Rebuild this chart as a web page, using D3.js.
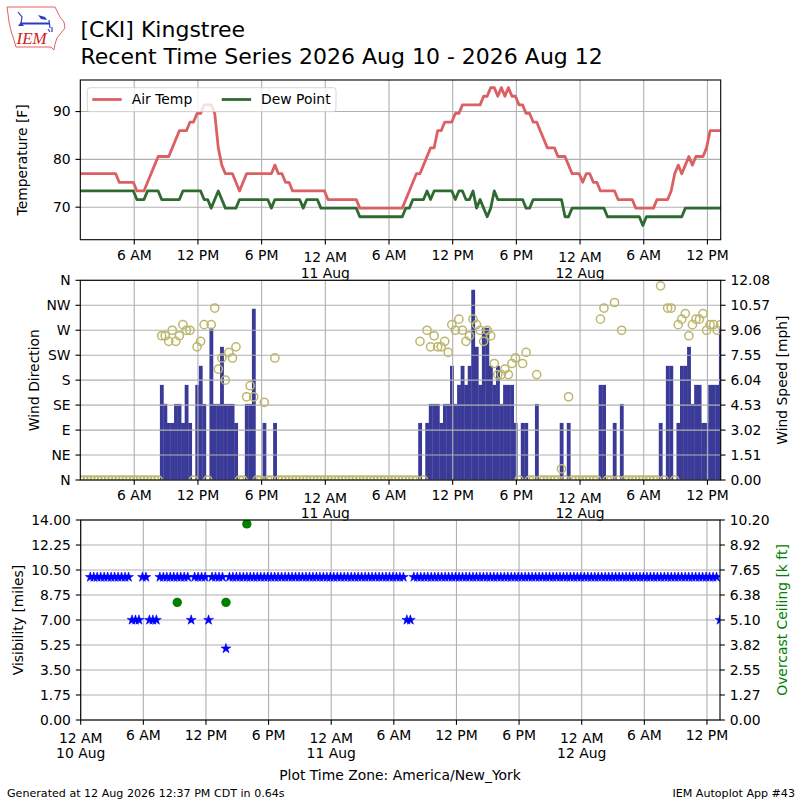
<!DOCTYPE html>
<html>
<head>
<meta charset="utf-8">
<script src="https://cdn.jsdelivr.net/npm/d3@7"></script>
<style>
  html, body { margin: 0; padding: 0; background: #fff; }
  svg text { font-family: "DejaVu Sans", sans-serif; fill: #000; }
</style>
</head>
<body>
<svg id="chart" width="800" height="800"></svg>
<script>
// ── Observations: every 20 minutes from 00:55 10 Aug (plot time zone) ──
const obsStart   = '2026-08-10T00:55:00Z';
const obsStepMin = 20;

const tempF = [
  /*  0 */ 77,77,77,77,77,77,77,77,77,77,
  /* 10 */ 77,75.2,75.2,75.2,75.2,75.2,73.4,73.4,73.4,75.2,
  /* 20 */ 77,78.8,80.6,80.6,80.6,80.6,82.4,84.2,86,86,
  /* 30 */ 86,87.8,87.8,89.6,89.6,91.4,91.4,91.4,89.6,82.4,
  /* 40 */ 78.8,77,77,77,75.2,73.4,75.2,77,77,77,
  /* 50 */ 77,77,77,77,77,78.8,77,77,75.2,75.2,
  /* 60 */ 73.4,73.4,73.4,73.4,73.4,73.4,73.4,73.4,73.4,73.4,
  /* 70 */ 71.6,71.6,71.6,71.6,71.6,71.6,71.6,71.6,71.6,69.8,
  /* 80 */ 69.8,69.8,69.8,69.8,69.8,69.8,69.8,69.8,69.8,69.8,
  /* 90 */ 69.8,69.8,71.6,73.4,75.2,77,77,78.8,80.6,82.4,
  /*100 */ 82.4,86,86,87.8,87.8,87.8,89.6,89.6,91.4,91.4,
  /*110 */ 91.4,91.4,91.4,91.4,93.2,93.2,95,95,93.2,95,
  /*120 */ 93.2,95,93.2,93.2,91.4,91.4,89.6,89.6,87.8,87.8,
  /*130 */ 86,84.2,82.4,82.4,82.4,80.6,80.6,80.6,78.8,77,
  /*140 */ 77,77,75.2,77,77,75.2,75.2,73.4,73.4,73.4,
  /*150 */ 73.4,73.4,71.6,71.6,71.6,71.6,71.6,69.8,69.8,69.8,
  /*160 */ 69.8,69.8,69.8,71.6,71.6,71.6,71.6,73.4,77,78.8,
  /*170 */ 77,78.8,80.6,78.8,80.6,80.6,80.6,82.4,86,86,
  /*180 */ 86,86
];

const dewF = [
  /*  0 */ 73.4,73.4,73.4,73.4,73.4,73.4,73.4,73.4,73.4,73.4,
  /* 10 */ 73.4,73.4,73.4,73.4,73.4,73.4,71.6,71.6,71.6,73.4,
  /* 20 */ 73.4,73.4,73.4,71.6,71.6,71.6,71.6,71.6,71.6,73.4,
  /* 30 */ 73.4,73.4,73.4,73.4,73.4,71.6,71.6,69.8,71.6,73.4,
  /* 40 */ 71.6,69.8,69.8,69.8,69.8,71.6,71.6,71.6,71.6,71.6,
  /* 50 */ 71.6,71.6,71.6,71.6,69.8,71.6,71.6,71.6,71.6,71.6,
  /* 60 */ 71.6,71.6,71.6,69.8,71.6,71.6,71.6,71.6,69.8,69.8,
  /* 70 */ 69.8,69.8,69.8,69.8,69.8,69.8,69.8,69.8,69.8,68,
  /* 80 */ 68,68,68,68,68,68,68,68,68,68,
  /* 90 */ 68,68,69.8,69.8,71.6,71.6,71.6,71.6,73.4,71.6,
  /*100 */ 73.4,73.4,73.4,73.4,73.4,73.4,71.6,73.4,73.4,71.6,
  /*110 */ 71.6,73.4,69.8,71.6,69.8,68,69.8,73.4,71.6,71.6,
  /*120 */ 71.6,71.6,71.6,71.6,71.6,71.6,69.8,69.8,71.6,71.6,
  /*130 */ 71.6,71.6,71.6,71.6,71.6,71.6,71.6,68,68,69.8,
  /*140 */ 69.8,69.8,69.8,69.8,69.8,69.8,69.8,69.8,69.8,68,
  /*150 */ 68,68,68,68,68,68,68,68,68,66.2,
  /*160 */ 68,68,68,68,68,68,68,68,68,68,
  /*170 */ 68,69.8,69.8,69.8,69.8,69.8,69.8,69.8,69.8,69.8,
  /*180 */ 69.8,69.8
];

// wind speed in knots (plotted in mph)
const windKt = [
  /*  0 */ 0,0,0,0,0,0,0,0,0,0,
  /* 10 */ 0,0,0,0,0,0,0,0,0,0,
  /* 20 */ 0,0,0,5,4,3,3,4,4,3,
  /* 30 */ 5,3,0,5,6,4,0,8,4,4,
  /* 40 */ 7,4,4,4,3,0,0,4,4,9,
  /* 50 */ 0,0,3,0,0,3,0,0,0,0,
  /* 60 */ 0,0,0,0,0,0,0,0,0,0,
  /* 70 */ 0,0,0,0,0,0,0,0,0,0,
  /* 80 */ 0,0,0,0,0,0,0,0,0,0,
  /* 90 */ 0,0,0,0,0,0,3,0,3,4,
  /*100 */ 4,4,3,4,4,6,4,5,6,5,
  /*110 */ 6,10,7,5,8,8,6,5,6,4,
  /*120 */ 5,5,5,3,0,3,3,0,0,4,
  /*130 */ 0,0,0,0,0,0,3,0,3,0,
  /*140 */ 0,0,0,0,0,0,0,5,5,0,
  /*150 */ 0,3,0,4,0,0,0,0,0,0,
  /*160 */ 0,0,0,0,3,0,6,6,0,3,
  /*170 */ 6,6,7,4,5,5,3,3,5,5,
  /*180 */ 5,8
];

// wind direction in degrees (0 when calm)
const windDir = [
  /*  0 */ 0,0,0,0,0,0,0,0,0,0,
  /* 10 */ 0,0,0,0,0,0,0,0,0,0,
  /* 20 */ 0,0,0,260,260,250,270,250,260,280,
  /* 30 */ 270,270,0,240,250,280,0,280,310,200,
  /* 40 */ 220,180,230,220,240,0,0,150,170,150,
  /* 50 */ 0,0,140,0,0,220,0,0,0,0,
  /* 60 */ 0,0,0,0,0,0,0,0,0,0,
  /* 70 */ 0,0,0,0,0,0,0,0,0,0,
  /* 80 */ 0,0,0,0,0,0,0,0,0,0,
  /* 90 */ 0,0,0,0,0,0,250,0,270,240,
  /*100 */ 260,240,240,250,230,280,270,290,270,250,
  /*110 */ 260,290,280,270,250,270,260,210,190,190,
  /*120 */ 200,190,210,220,0,210,230,0,0,190,
  /*130 */ 0,0,0,0,0,0,20,0,150,0,
  /*140 */ 0,0,0,0,0,0,0,290,310,0,
  /*150 */ 0,320,0,270,0,0,0,0,0,0,
  /*160 */ 0,0,0,0,350,0,310,310,0,280,
  /*170 */ 290,300,260,280,290,290,300,270,280,280,
  /*180 */ 270,280
];

const visMiles = [
  /*  0 */ 10,10,10,10,10,10,10,10,10,10,
  /* 10 */ 10,10,7,7,7,10,10,7,7,7,
  /* 20 */ 10,10,10,10,10,10,10,10,10,7,
  /* 30 */ 10,10,10,10,7,10,10,10,10,5,
  /* 40 */ 10,10,10,10,10,10,10,10,10,10,
  /* 50 */ 10,10,10,10,10,10,10,10,10,10,
  /* 60 */ 10,10,10,10,10,10,10,10,10,10,
  /* 70 */ 10,10,10,10,10,10,10,10,10,10,
  /* 80 */ 10,10,10,10,10,10,10,10,10,10,
  /* 90 */ 10,7,7,10,10,10,10,10,10,10,
  /*100 */ 10,10,10,10,10,10,10,10,10,10,
  /*110 */ 10,10,10,10,10,10,10,10,10,10,
  /*120 */ 10,10,10,10,10,10,10,10,10,10,
  /*130 */ 10,10,10,10,10,10,10,10,10,10,
  /*140 */ 10,10,10,10,10,10,10,10,10,10,
  /*150 */ 10,10,10,10,10,10,10,10,10,10,
  /*160 */ 10,10,10,10,10,10,10,10,10,10,
  /*170 */ 10,10,10,10,10,10,10,10,10,10,
  /*180 */ 10,7
];

// overcast ceiling reports [k ft]
const ceilingTimes = ['2026-08-10T09:15:00Z', '2026-08-10T13:55:00Z', '2026-08-10T15:55:00Z'];
const ceilingKft   = [6.0, 6.0, 10.0];

// ── Axis ticks ───────────────────────────────────────────────
const tempTicks        = [70, 80, 90];
const dirTicks         = [0, 45, 90, 135, 180, 225, 270, 315, 360];
const dirTickLabels    = ['N', 'NE', 'E', 'SE', 'S', 'SW', 'W', 'NW', 'N'];
const speedTickLabels  = ['0.00', '1.51', '3.02', '4.53', '6.04', '7.55', '9.06', '10.57', '12.08'];
const visTickLabels    = ['0.00', '1.75', '3.50', '5.25', '7.00', '8.75', '10.50', '12.25', '14.00'];
const ceilTickLabels   = ['0.00', '1.27', '2.55', '3.82', '5.10', '6.38', '7.65', '8.92', '10.20'];

// ── Layout ───────────────────────────────────────────────────
const TICK = 4.86, PAD = 4.86, FS = 13.9;
const GRID = '#b0b0b0';
const pTop = { x0: 80.3, x1: 720.7, y0: 80,    y1: 239.7 };
const pMid = { x0: 80.3, x1: 720.7, y0: 280.3, y1: 480 };
const pBot = { x0: 80.7, x1: 720,   y0: 520,   y1: 720 };

const MIN = 60000;
const times = tempF.map((_, i) => new Date(Date.parse(obsStart) + i * obsStepMin * MIN));
const first = times[0], last = times[times.length - 1];

const svg = d3.select('#chart');
const defs = svg.append('defs');

function clipFor(id, p) {
  defs.append('clipPath').attr('id', id)
    .append('rect').attr('x', p.x0).attr('y', p.y0)
    .attr('width', p.x1 - p.x0).attr('height', p.y1 - p.y0);
  return `url(#${id})`;
}

function hourLabel(d) {
  const h = d.getUTCHours();
  return (h % 12 === 0 ? 12 : h % 12) + (h < 12 ? ' AM' : ' PM');
}
const dayLabel = d3.utcFormat('%-d %b');

function gridX(g, x, p, ticks) {
  g.append('g').selectAll('line').data(ticks).join('line')
    .attr('x1', d => x(d)).attr('x2', d => x(d))
    .attr('y1', p.y0).attr('y2', p.y1)
    .attr('stroke', GRID).attr('stroke-width', 1.1);
}
function gridY(g, y, p, ticks) {
  g.append('g').selectAll('line').data(ticks).join('line')
    .attr('y1', d => y(d)).attr('y2', d => y(d))
    .attr('x1', p.x0).attr('x2', p.x1)
    .attr('stroke', GRID).attr('stroke-width', 1.1);
}

function xAxis(g, x, p, ticks) {
  const a = g.append('g');
  a.selectAll('line').data(ticks).join('line')
    .attr('x1', d => x(d)).attr('x2', d => x(d))
    .attr('y1', p.y1).attr('y2', p.y1 + TICK)
    .attr('stroke', '#000').attr('stroke-width', 1.1);
  ticks.forEach(d => {
    const midnight = d.getUTCHours() === 0;
    const t = a.append('text')
      .attr('x', x(d)).attr('text-anchor', 'middle')
      .attr('font-size', FS);
    if (midnight) {
      t.append('tspan').attr('x', x(d)).attr('y', p.y1 + 22.5).text(hourLabel(d));
      t.append('tspan').attr('x', x(d)).attr('y', p.y1 + 38).text(dayLabel(d));
    } else {
      t.attr('y', p.y1 + 20.2).text(hourLabel(d));
    }
  });
}

function yAxis(g, y, p, ticks, labels, side) {
  const a = g.append('g');
  const xe = side === 'left' ? p.x0 : p.x1;
  const dir = side === 'left' ? -1 : 1;
  ticks.forEach((v, k) => {
    a.append('line')
      .attr('x1', xe).attr('x2', xe + dir * TICK)
      .attr('y1', y(v)).attr('y2', y(v))
      .attr('stroke', '#000').attr('stroke-width', 1.1);
    a.append('text')
      .attr('x', xe + dir * (TICK + PAD)).attr('y', y(v)).attr('dy', '0.35em')
      .attr('text-anchor', side === 'left' ? 'end' : 'start')
      .attr('font-size', FS).text(labels[k]);
  });
}

function yLabel(g, cx, cy, text, color) {
  g.append('text')
    .attr('transform', `translate(${cx},${cy}) rotate(-90)`)
    .attr('text-anchor', 'middle').attr('dy', '0.35em')
    .attr('font-size', FS).style('fill', color || '#000').text(text);
}

function frame(g, p) {
  g.append('rect').attr('x', p.x0).attr('y', p.y0)
    .attr('width', p.x1 - p.x0).attr('height', p.y1 - p.y0)
    .attr('fill', 'none').attr('stroke', '#000').attr('stroke-width', 1.1);
}

// ── Panel 1: temperature / dew point ─────────────────────────
{
  const g = svg.append('g');
  const x = d3.scaleUtc().domain([first, last]).range([pTop.x0, pTop.x1]);
  const y = d3.scaleLinear().domain([63.2, 96.6]).range([pTop.y1, pTop.y0]);
  const xt = x.ticks(d3.utcHour.every(6));

  gridX(g, x, pTop, xt);
  gridY(g, y, pTop, tempTicks);

  const line = vals => d3.line().x((d, i) => x(times[i])).y(d => y(d))(vals);
  g.append('path').attr('d', line(tempF))
    .attr('fill', 'none').attr('stroke', '#dc5f64').attr('stroke-width', 2.8)
    .attr('stroke-linejoin', 'round');
  g.append('path').attr('d', line(dewF))
    .attr('fill', 'none').attr('stroke', '#2f6a31').attr('stroke-width', 2.8)
    .attr('stroke-linejoin', 'round');

  // legend
  const lg = g.append('g');
  lg.append('rect').attr('x', 87.3).attr('y', 87.7).attr('width', 248.7).attr('height', 24)
    .attr('rx', 2.8).attr('fill', '#fff').attr('fill-opacity', 0.8)
    .attr('stroke', '#ccc').attr('stroke-opacity', 0.8);
  [['Air Temp', '#dc5f64', 92.3], ['Dew Point', '#2f6a31', 221.7]].forEach(([name, c, lx]) => {
    lg.append('line').attr('x1', lx).attr('x2', lx + 29.4).attr('y1', 99.5).attr('y2', 99.5)
      .attr('stroke', c).attr('stroke-width', 2.8);
    lg.append('text').attr('x', lx + 39.4).attr('y', 99.5).attr('dy', '0.35em')
      .attr('font-size', FS).text(name);
  });

  xAxis(g, x, pTop, xt);
  yAxis(g, y, pTop, tempTicks, tempTicks.map(String), 'left');
  yLabel(g, 22, (pTop.y0 + pTop.y1) / 2, 'Temperature [F]');
  frame(g, pTop);
}

// ── Panel 2: wind direction / speed ──────────────────────────
{
  const g = svg.append('g');
  const clip = clipFor('clip-mid', pMid);
  const x = d3.scaleUtc().domain([first, last]).range([pMid.x0, pMid.x1]);
  const yDir = d3.scaleLinear().domain([0, 360]).range([pMid.y1, pMid.y0]);
  const ySpd = d3.scaleLinear().domain([0, 12.08]).range([pMid.y1, pMid.y0]);
  const xt = x.ticks(d3.utcHour.every(6));

  const mph = windKt.map(k => k * 1.15078);
  const half = obsStepMin / 2 * MIN;
  g.append('g').attr('clip-path', clip)
    .selectAll('rect').data(mph.map((v, i) => ({ v, t: times[i] })).filter(d => d.v > 0))
    .join('rect')
    .attr('x', d => x(new Date(+d.t - half)))
    .attr('width', d => x(new Date(+d.t + half)) - x(new Date(+d.t - half)) + 0.3)
    .attr('y', d => ySpd(d.v))
    .attr('height', d => ySpd(0) - ySpd(d.v))
    .attr('fill', '#3a3a98');

  gridX(g, x, pMid, xt);
  gridY(g, yDir, pMid, dirTicks);

  g.append('g').attr('clip-path', clip)
    .selectAll('circle').data(windDir).join('circle')
    .attr('cx', (d, i) => x(times[i])).attr('cy', d => yDir(d)).attr('r', 4.1)
    .attr('fill', 'none').attr('stroke', '#bdb76b').attr('stroke-width', 1.5);

  xAxis(g, x, pMid, xt);
  yAxis(g, yDir, pMid, dirTicks, dirTickLabels, 'left');
  yAxis(g, ySpd, pMid, speedTickLabels.map(Number), speedTickLabels, 'right');
  yLabel(g, 34, (pMid.y0 + pMid.y1) / 2, 'Wind Direction');
  yLabel(g, 782, (pMid.y0 + pMid.y1) / 2, 'Wind Speed [mph]');
  frame(g, pMid);
}

// ── Panel 3: visibility / ceiling ────────────────────────────
{
  const g = svg.append('g');
  const clip = clipFor('clip-bot', pBot);
  const x = d3.scaleUtc().domain([d3.utcDay.floor(first), last]).range([pBot.x0, pBot.x1]);
  const yVis = d3.scaleLinear().domain([0, 14]).range([pBot.y1, pBot.y0]);
  const yCeil = d3.scaleLinear().domain([0, 10.2]).range([pBot.y1, pBot.y0]);
  const xt = x.ticks(d3.utcHour.every(6));
  const visTicks = visTickLabels.map(Number);

  gridX(g, x, pBot, xt);
  gridY(g, yVis, pBot, visTicks);

  const star = d3.symbol().type(d3.symbolStar).size(30);
  g.append('g').attr('clip-path', clip)
    .selectAll('path').data(visMiles).join('path')
    .attr('d', star)
    .attr('transform', (d, i) => `translate(${x(times[i])},${yVis(d)})`)
    .attr('fill', '#0000ff').attr('stroke', '#0000ff').attr('stroke-width', 0.6);

  g.append('g').attr('clip-path', clip)
    .selectAll('circle').data(ceilingKft).join('circle')
    .attr('cx', (d, i) => x(new Date(ceilingTimes[i]))).attr('cy', d => yCeil(d))
    .attr('r', 4.7).attr('fill', '#008000');

  xAxis(g, x, pBot, xt);
  yAxis(g, yVis, pBot, visTicks, visTickLabels, 'left');
  yAxis(g, yCeil, pBot, visTicks.map(v => yCeil.invert(yVis(v))), ceilTickLabels, 'right');
  yLabel(g, 18, (pBot.y0 + pBot.y1) / 2, 'Visibility [miles]');
  yLabel(g, 782, (pBot.y0 + pBot.y1) / 2, 'Overcast Ceiling [k ft]', '#008000');
  frame(g, pBot);
}

// ── Titles and footer ────────────────────────────────────────
svg.append('text').attr('x', 80.5).attr('y', 37).attr('font-size', 22).text('[CKI] Kingstree');
svg.append('text').attr('x', 80.5).attr('y', 64).attr('font-size', 22)
  .text('Recent Time Series 2026 Aug 10 - 2026 Aug 12');
svg.append('text').attr('x', 400).attr('y', 780).attr('text-anchor', 'middle')
  .attr('font-size', FS).text('Plot Time Zone: America/New_York');
svg.append('text').attr('x', 7).attr('y', 797).attr('font-size', 11.1)
  .text('Generated at 12 Aug 2026 12:37 PM CDT in 0.64s');
svg.append('text').attr('x', 795).attr('y', 797).attr('text-anchor', 'end').attr('font-size', 11.1)
  .text('IEM Autoplot App #43');

// ── IEM logo ─────────────────────────────────────────────────
{
  const lg = svg.append('g');
  lg.append('path')
    .attr('d', 'M7,7 L55,7 L57,11 L60,17 L64,22 L65,28 L61,33 L57,38 L55,44 L54,50 L51,47 L16,47 L14,40 L11,31 L9,22 L8,14 Z')
    .attr('fill', 'none').attr('stroke', '#e05050').attr('stroke-width', 0.9);
  lg.append('path').attr('d', 'M18,12 L22,17 L21,23')
    .attr('fill', 'none').attr('stroke', '#2a3cc0').attr('stroke-width', 1.2);
  lg.append('line').attr('x1', 21).attr('x2', 50).attr('y1', 23.5).attr('y2', 23.5)
    .attr('stroke', '#2a3cc0').attr('stroke-width', 2);
  lg.append('path').attr('d', 'M38,15 L45,17 L47,20 L41,19 Z').attr('fill', '#2a3cc0');
  lg.append('path').attr('d', 'M18,26 L21,22 L24,26 Z').attr('fill', '#2a3cc0');
  lg.append('path').attr('d', 'M49,20 L50,28 M52,27 L52,32 M48,29 L50,32')
    .attr('fill', 'none').attr('stroke', '#2a3cc0').attr('stroke-width', 1.2);
  lg.append('text').attr('x', 16.5).attr('y', 43.5)
    .style('font-family', '"Liberation Serif", serif').style('font-style', 'italic')
    .style('fill', '#d02020').attr('font-size', 17).text('IEM');
}
</script>
</body>
</html>
